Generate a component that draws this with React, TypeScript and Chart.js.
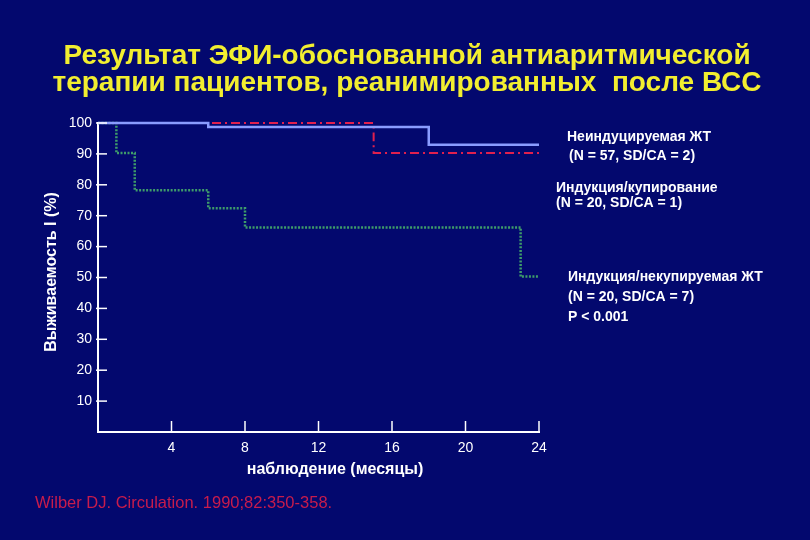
import React, { useEffect, useRef } from 'react';
import { Chart, registerables } from 'chart.js';

Chart.register(...registerables);

// months and survival (%) for each group
const noninducibleMonths = [0, 6, 18, 24];
const noninducibleSurvival = [100, 98.7, 93, 93];

const suppressedMonths = [0, 15, 24];
const suppressedSurvival = [100, 90.3, 90.3];

const nonsuppressedMonths = [0, 1, 2, 6, 8, 23, 24];
const nonsuppressedSurvival = [100, 90.3, 78.2, 72.4, 66.2, 50.3, 50.3];

const xTicks = [4, 8, 12, 16, 20, 24];
const yTicks = [10, 20, 30, 40, 50, 60, 70, 80, 90, 100];

const titleLines = [
  'Результат ЭФИ-обоснованной антиаритмической',
  'терапии пациентов, реанимированных  после ВСС',
];
const yTitle = 'Выживаемость I (%)';
const xTitle = 'наблюдение (месяцы)';
const citation = 'Wilber DJ. Circulation. 1990;82:350-358.';

// right-hand labels, one entry per line
const noteLines = [
  'Неиндуцируемая ЖТ',
  '(N = 57, SD/CA = 2)',
  'Индукция/купирование',
  '(N = 20, SD/CA = 1)',
  'Индукция/некупируемая ЖТ',
  '(N = 20, SD/CA = 7)',
  'P < 0.001',
];
const noteX = [567, 569, 556, 556, 568, 568, 568];
const noteY = [137, 156, 188, 203, 277, 297, 317];

const FONT = '"Liberation Sans", Arial, sans-serif';
const BG = '#03086e';

const toPoints = (xs: number[], ys: number[]) => xs.map((x, i) => ({ x, y: ys[i] }));

const App: React.FC = () => {
  const chartRef = useRef<HTMLCanvasElement>(null);
  const chartInstance = useRef<Chart | null>(null);

  useEffect(() => {
    if (!chartRef.current) return;
    if (chartInstance.current) chartInstance.current.destroy();
    const ctx = chartRef.current.getContext('2d');
    if (!ctx) return;

    // background, inward tick marks and the free text of the slide
    const decorations = {
      id: 'decorations',
      beforeDraw(chart: Chart) {
        const c = chart.ctx;
        c.save();
        c.fillStyle = BG;
        c.fillRect(0, 0, chart.width, chart.height);
        c.restore();
      },
      afterDraw(chart: Chart) {
        const c = chart.ctx;
        const xs = chart.scales.x;
        const ys = chart.scales.y;
        const area = chart.chartArea;
        c.save();
        c.strokeStyle = '#ffffff';
        c.lineWidth = 1.5;
        yTicks.forEach((v) => {
          const py = ys.getPixelForValue(v);
          c.beginPath();
          c.moveTo(area.left - 2, py);
          c.lineTo(area.left + 9, py);
          c.stroke();
        });
        xTicks.forEach((v) => {
          const px = xs.getPixelForValue(v);
          c.beginPath();
          c.moveTo(px, area.bottom);
          c.lineTo(px, area.bottom - 11);
          c.stroke();
        });

        c.fillStyle = '#f2ee30';
        c.font = `bold 28px ${FONT}`;
        c.textAlign = 'center';
        c.textBaseline = 'middle';
        c.fillText(titleLines[0], 407, 56);
        c.fillText(titleLines[1], 407, 83);

        c.fillStyle = '#ffffff';
        c.font = `bold 16px ${FONT}`;
        c.fillText(xTitle, 335, 470);

        c.save();
        c.translate(52, 272);
        c.rotate(-Math.PI / 2);
        c.font = `bold 16px ${FONT}`;
        c.fillText(yTitle, 0, 0);
        c.restore();

        c.textAlign = 'left';
        c.font = `bold 14px ${FONT}`;
        noteLines.forEach((line, i) => {
          c.fillText(line, noteX[i], noteY[i]);
        });

        c.fillStyle = '#c81c4c';
        c.font = `16.5px ${FONT}`;
        c.fillText(citation, 35, 503);
        c.restore();
      },
    };

    chartInstance.current = new Chart(ctx, {
      type: 'line',
      data: {
        datasets: [
          {
            label: 'Неиндуцируемая ЖТ',
            data: toPoints(noninducibleMonths, noninducibleSurvival),
            borderColor: '#8a9cff',
            borderWidth: 2.5,
            stepped: 'before',
            pointRadius: 0,
            fill: false,
            clip: 6,
            order: 0,
          },
          {
            label: 'Индукция/купирование',
            data: toPoints(suppressedMonths, suppressedSurvival),
            borderColor: '#e0204e',
            borderWidth: 2,
            borderDash: [9, 4, 2, 4],
            stepped: 'before',
            pointRadius: 0,
            fill: false,
            clip: 6,
            order: 1,
          },
          {
            label: 'Индукция/некупируемая ЖТ',
            data: toPoints(nonsuppressedMonths, nonsuppressedSurvival),
            borderColor: '#3f9c6a',
            borderWidth: 2.5,
            borderDash: [2, 1.5],
            stepped: 'before',
            pointRadius: 0,
            fill: false,
            clip: 6,
            order: 2,
          },
        ],
      },
      options: {
        animation: false,
        responsive: false,
        maintainAspectRatio: false,
        layout: { padding: { left: 38, right: 271, top: 123, bottom: 70 } },
        plugins: {
          legend: { display: false },
          tooltip: { enabled: false },
          title: { display: false },
        },
        scales: {
          x: {
            type: 'linear',
            min: 0,
            max: 24,
            afterFit: (scale: any) => {
              scale.height = 38;
            },
            afterBuildTicks: (scale: any) => {
              scale.ticks = xTicks.map((v) => ({ value: v }));
            },
            grid: { display: false, drawTicks: false },
            border: { display: true, color: '#ffffff', width: 2 },
            ticks: {
              color: '#ffffff',
              font: { family: FONT, size: 14 },
              padding: 8,
            },
          },
          y: {
            type: 'linear',
            min: 0,
            max: 100,
            afterFit: (scale: any) => {
              scale.width = 60;
            },
            afterBuildTicks: (scale: any) => {
              scale.ticks = yTicks.map((v) => ({ value: v }));
            },
            grid: { display: false, drawTicks: false },
            border: { display: true, color: '#ffffff', width: 2 },
            ticks: {
              color: '#ffffff',
              font: { family: FONT, size: 14 },
              padding: 6,
            },
          },
        },
      },
      plugins: [decorations],
    });

    return () => {
      if (chartInstance.current) {
        chartInstance.current.destroy();
        chartInstance.current = null;
      }
    };
  }, []);

  return (
    <div style={{ position: 'fixed', left: 0, top: 0, width: 810, height: 540, background: BG }}>
      <canvas ref={chartRef} width={810} height={540} style={{ width: 810, height: 540 }} />
    </div>
  );
};

export default App;
